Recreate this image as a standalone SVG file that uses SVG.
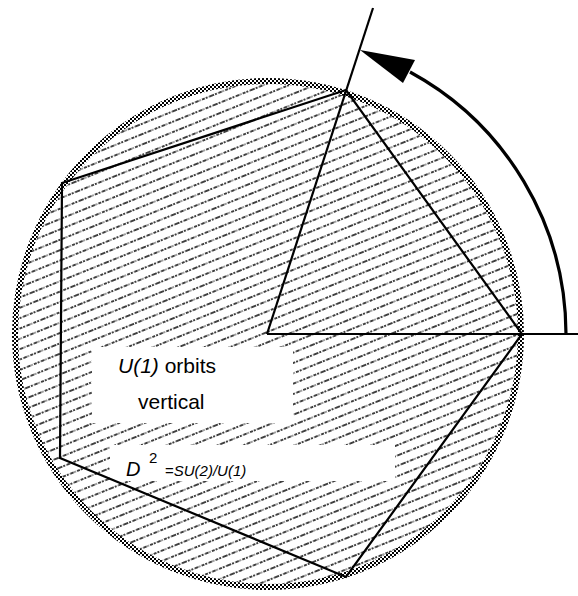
<svg xmlns="http://www.w3.org/2000/svg" width="578" height="596" viewBox="0 0 578 596">
<style>
.ln{fill:none;stroke:#000;stroke-width:2.2;stroke-linejoin:miter}
.t{font-family:"Liberation Sans",Arial,sans-serif;fill:#000}
.i{font-style:italic}
</style>
<defs>
<pattern id="hatch" width="40" height="9.6" patternUnits="userSpaceOnUse" patternTransform="rotate(-22)">
<line x1="0" y1="4.8" x2="40" y2="4.8" stroke="#000" stroke-width="1.4" stroke-dasharray="3 1 2 1.5 4 1 1 1.5"/>
</pattern>
<pattern id="check" width="4" height="4" patternUnits="userSpaceOnUse">
<rect width="4" height="4" fill="#fff"/>
<rect width="2" height="2" fill="#000"/>
<rect x="2" y="2" width="2" height="2" fill="#000"/>
</pattern>
<clipPath id="cc"><circle cx="268" cy="334" r="253"/></clipPath>
</defs>
<rect width="578" height="596" fill="#fff"/>
<g id="disc">
<rect x="0" y="0" width="578" height="596" fill="url(#hatch)" clip-path="url(#cc)"/>
<circle cx="268" cy="334" r="253" fill="none" stroke="url(#check)" stroke-width="6"/>
</g>
<g id="labels">
<rect x="92" y="347" width="201" height="76" fill="#fff"/>
<rect x="110" y="445" width="285" height="36" fill="#fff"/>
<text class="t" x="118" y="373" font-size="21"><tspan class="i">U(1)</tspan> orbits</text>
<text class="t" x="138" y="409" font-size="21">vertical</text>
<text class="t i" x="126" y="476" font-size="20">D</text>
<text class="t" x="149" y="463" font-size="15">2</text>
<text class="t" x="165" y="476" font-size="15">=<tspan class="i">SU(2)/U(1)</tspan></text>
</g>
<g id="connectors">
<polygon class="ln" points="346,90 62,183 60,458 346,577 522,334"/>
<line class="ln" x1="267" y1="334" x2="578" y2="334"/>
<line class="ln" x1="267" y1="334" x2="373" y2="8" stroke-width="2"/>
<path d="M 566 334 A 299 299 0 0 0 410 72" fill="none" stroke="#000" stroke-width="3.2"/>
<polygon points="360,50 415,60 403,83" fill="#000"/>
</g>
</svg>
